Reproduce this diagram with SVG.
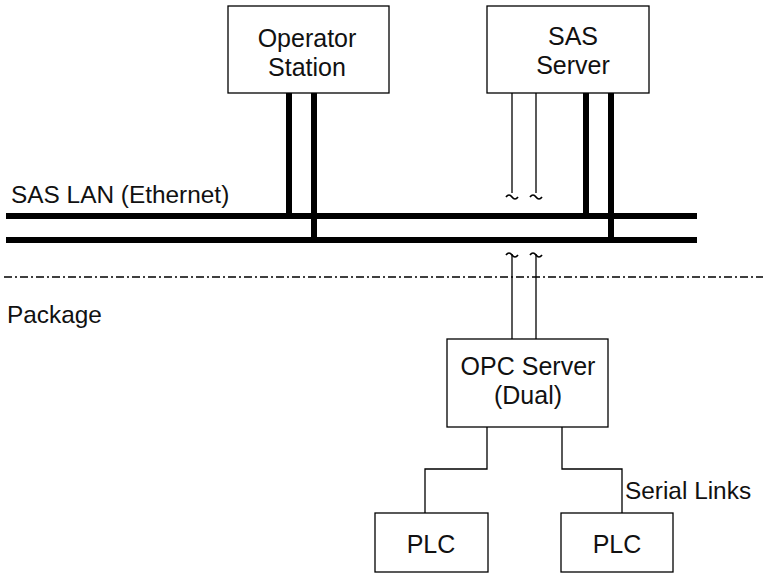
<svg xmlns="http://www.w3.org/2000/svg" width="763" height="575" viewBox="0 0 763 575">
  <style>
    .box { fill: #fff; stroke: #000; stroke-width: 1.3; }
    .lbl { font-family: "Liberation Sans", Arial, Helvetica, sans-serif; font-size: 24.4px; fill: #111; }
    .nodelbl { font-size: 25px; }
    .mid { text-anchor: middle; }
    .bus { stroke: #000; stroke-width: 6; fill: none; }
    .thin { stroke: #000; stroke-width: 1.3; fill: none; }
    .tilde { stroke: #000; stroke-width: 1.7; fill: none; }
    .zone { stroke: #000; stroke-width: 1.3; stroke-dasharray: 8 3 2 3; fill: none; }
  </style>

  <rect width="763" height="575" fill="#fff"/>

  <g id="connectors">
    <!-- SAS LAN, dual Ethernet bus -->
    <line class="bus" x1="6" y1="216" x2="697" y2="216"/>
    <line class="bus" x1="6" y1="240" x2="697" y2="240"/>
    <!-- Operator Station drops -->
    <line class="bus" x1="289" y1="93" x2="289" y2="216"/>
    <line class="bus" x1="314" y1="93" x2="314" y2="240"/>
    <!-- SAS Server drops -->
    <line class="bus" x1="586" y1="93" x2="586" y2="216"/>
    <line class="bus" x1="611" y1="93" x2="611" y2="240"/>
    <!-- SAS Server to OPC Server links (broken) -->
    <line class="thin" x1="512" y1="93" x2="512" y2="193"/>
    <line class="thin" x1="536" y1="93" x2="536" y2="193"/>
    <path class="tilde" d="M506 197 q3 -4 6 0 t6 0"/>
    <path class="tilde" d="M530 197 q3 -4 6 0 t6 0"/>
    <path class="tilde" d="M506 255 q3 -4 6 0 t6 0"/>
    <path class="tilde" d="M530 255 q3 -4 6 0 t6 0"/>
    <line class="thin" x1="512" y1="254" x2="512" y2="339"/>
    <line class="thin" x1="536" y1="254" x2="536" y2="339"/>
    <!-- package boundary -->
    <line class="zone" x1="4" y1="277" x2="763" y2="277"/>
    <!-- serial links to PLCs -->
    <polyline class="thin" points="487,427 487,469 425,469 425,513"/>
    <polyline class="thin" points="562,427 562,469 622,469 622,513"/>
  </g>

  <g id="operator-station">
    <rect class="box" x="228" y="6" width="161" height="87"/>
    <text class="lbl nodelbl mid" x="307" y="47">Operator</text>
    <text class="lbl nodelbl mid" x="307" y="76">Station</text>
  </g>

  <g id="sas-server">
    <rect class="box" x="487" y="6" width="162" height="87"/>
    <text class="lbl nodelbl mid" x="573" y="45">SAS</text>
    <text class="lbl nodelbl mid" x="573" y="74">Server</text>
  </g>

  <g id="opc-server">
    <rect class="box" x="447" y="339" width="161" height="88"/>
    <text class="lbl nodelbl mid" x="528" y="375">OPC Server</text>
    <text class="lbl nodelbl mid" x="528" y="404">(Dual)</text>
  </g>

  <g id="plc-1">
    <rect class="box" x="375" y="513" width="113" height="59"/>
    <text class="lbl nodelbl mid" x="431" y="553">PLC</text>
  </g>

  <g id="plc-2">
    <rect class="box" x="561" y="513" width="112" height="59"/>
    <text class="lbl nodelbl mid" x="617" y="553">PLC</text>
  </g>

  <g id="labels">
    <text class="lbl" x="11" y="203">SAS LAN (Ethernet)</text>
    <text class="lbl" x="7" y="323">Package</text>
    <text class="lbl" x="625" y="499">Serial Links</text>
  </g>
</svg>
